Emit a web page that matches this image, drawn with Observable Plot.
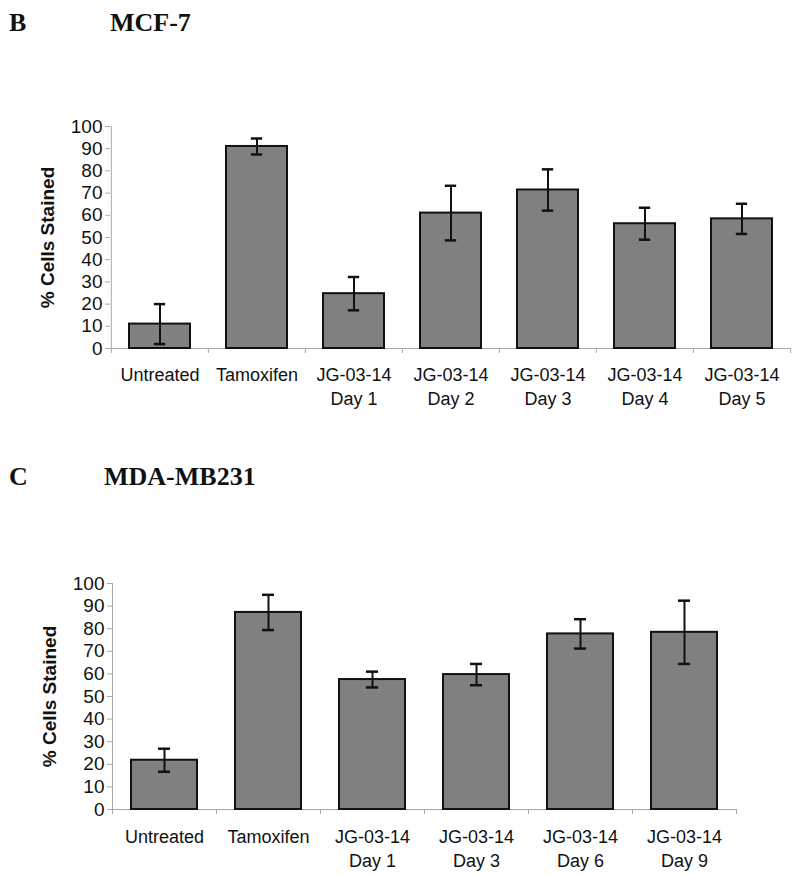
<!DOCTYPE html>
<html>
<head>
<meta charset="utf-8">
<script src="https://cdn.jsdelivr.net/npm/d3@7"></script>
<script src="https://cdn.jsdelivr.net/npm/@observablehq/plot@0.6"></script>
<style>
  html, body { margin: 0; padding: 0; background: #fff; }
  #page { position: relative; width: 800px; height: 876px; overflow: hidden; background: #fff; }
  .title { position: absolute; font-family: "Liberation Serif", "Times New Roman", serif; font-weight: bold; font-size: 26px; line-height: 26px; color: #111; white-space: nowrap; }
  .chart { position: absolute; left: 0; }
</style>
</head>
<body>
<div id="page">
  <div class="title" style="left:9px; top:10px;">B</div>
  <div class="title" style="left:110px; top:10px;">MCF-7</div>
  <div class="chart" id="top" style="top:60px;"></div>
  <div class="title" style="left:9px; top:464px;">C</div>
  <div class="title" style="left:104px; top:464px;">MDA-MB231</div>
  <div class="chart" id="bottom" style="top:520px;"></div>
</div>
<script>
// ---- Data ----
const yTicks = [0, 10, 20, 30, 40, 50, 60, 70, 80, 90, 100];
const yLabel = "% Cells Stained";

// Panel B: MCF-7
const mcfCategories = ["Untreated", "Tamoxifen", "JG-03-14 Day 1", "JG-03-14 Day 2", "JG-03-14 Day 3", "JG-03-14 Day 4", "JG-03-14 Day 5"];
const mcfValues = [11, 91, 24.7, 61, 71.4, 56.2, 58.4];
const mcfErrors = [9, 3.6, 7.5, 12.3, 9.3, 7.2, 6.8];

// Panel C: MDA-MB231
const mdaCategories = ["Untreated", "Tamoxifen", "JG-03-14 Day 1", "JG-03-14 Day 3", "JG-03-14 Day 6", "JG-03-14 Day 9"];
const mdaValues = [21.8, 87.2, 57.5, 59.7, 77.7, 78.4];
const mdaErrors = [5.1, 7.8, 3.5, 4.7, 6.5, 14];

function makeChart({cats, values, errors, height, marginTop, marginBottom, marginLeft, marginRight, labelPad}) {
  const width = 800;
  const pad = 0.366;
  const data = cats.map((c, i) => ({cat: c, value: values[i], err: errors[i]}));
  const step = (width - marginLeft - marginRight) / cats.length;
  const bw = step * (1 - pad);
  const capInset = (bw - 12) / 2;
  const axisGray = "#a8a8a8";
  return Plot.plot({
    width, height, marginTop, marginBottom, marginLeft, marginRight,
    style: {fontFamily: "'Liberation Sans', Arial, sans-serif", fontSize: "18px", color: "#111", background: "#fff"},
    x: {domain: cats, paddingInner: pad, paddingOuter: pad / 2, label: null},
    y: {domain: [0, 100], label: null},
    marks: [
      Plot.ruleY([0], {stroke: axisGray, strokeWidth: 1}),
      Plot.ruleX([cats[0]], {x: d => d, dx: -step / 2, y1: 0, y2: 100, stroke: axisGray}),
      Plot.ruleX(cats, {x: d => d, dx: -step / 2, y1: 0, y2: 0, insetBottom: -5, stroke: axisGray}),
      Plot.ruleX([cats[cats.length - 1]], {x: d => d, dx: step / 2, y1: 0, y2: 0, insetBottom: -5, stroke: axisGray}),
      Plot.axisY({ticks: yTicks, tickSize: 5, tickPadding: 3, stroke: axisGray, fill: "#111", fontSize: 19, label: null}),
      Plot.axisX({tickSize: 0, tickPadding: labelPad, tickFormat: d => d.replace(" Day", "\nDay"), lineHeight: 1.3, fontSize: 18, fill: "#111", label: null}),
      Plot.barY(data, {x: "cat", y: "value", fill: "#808080", stroke: "#111", strokeWidth: 2}),
      Plot.ruleX(data, {x: "cat", y1: d => d.value - d.err, y2: d => d.value + d.err, stroke: "#111", strokeWidth: 2}),
      Plot.tickY(data, {x: "cat", y: d => d.value + d.err, insetLeft: capInset, insetRight: capInset, stroke: "#111", strokeWidth: 2.5}),
      Plot.tickY(data, {x: "cat", y: d => d.value - d.err, insetLeft: capInset, insetRight: capInset, stroke: "#111", strokeWidth: 2.5}),
      Plot.text([yLabel], {frameAnchor: "left", textAnchor: "middle", rotate: -90, dx: -63, fontWeight: "bold", fontSize: 19, fill: "#111"})
    ]
  });
}

document.getElementById("top").append(makeChart({
  cats: mcfCategories, values: mcfValues, errors: mcfErrors,
  height: 360, marginTop: 66, marginBottom: 72, marginLeft: 110, marginRight: 9, labelPad: 16
}));
document.getElementById("bottom").append(makeChart({
  cats: mdaCategories, values: mdaValues, errors: mdaErrors,
  height: 356, marginTop: 63, marginBottom: 67, marginLeft: 112, marginRight: 64, labelPad: 17
}));
</script>
</body>
</html>
